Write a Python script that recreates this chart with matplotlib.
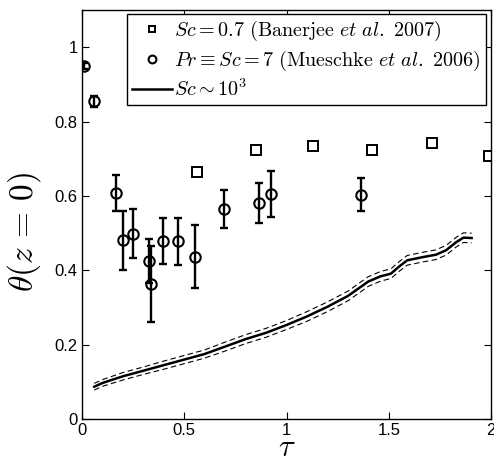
import numpy as np
import matplotlib.pyplot as plt

plt.rcParams['mathtext.fontset'] = 'cm'
plt.rcParams['font.family'] = ['Liberation Sans', 'DejaVu Sans']

# Sc = 0.7 (Banerjee et al. 2007)
sq_tau = [0.56, 0.85, 1.13, 1.42, 1.71, 1.99]
sq_theta = [0.664, 0.723, 0.734, 0.723, 0.742, 0.707]

# Pr = Sc = 7 (Mueschke et al. 2006)
ci_tau = [0.01, 0.06, 0.165, 0.199, 0.251, 0.329, 0.337, 0.398, 0.469, 0.551,
          0.693, 0.866, 0.922, 1.364]
ci_theta = [0.95, 0.855, 0.608, 0.481, 0.499, 0.425, 0.363, 0.479, 0.478, 0.437,
            0.565, 0.582, 0.605, 0.604]
ci_err = [0.008, 0.015, 0.048, 0.079, 0.067, 0.06, 0.102, 0.062, 0.063, 0.085,
          0.051, 0.054, 0.062, 0.045]

# Sc ~ 10^3 (mean and spread)
ln_tau = [0.06, 0.1, 0.2, 0.3, 0.4, 0.5, 0.6, 0.7, 0.8, 0.9, 1.0, 1.1, 1.2, 1.3,
          1.4, 1.46, 1.51, 1.55, 1.59, 1.67, 1.73, 1.78, 1.83, 1.865, 1.905]
ln_theta = [0.087, 0.097, 0.115, 0.13, 0.145, 0.16, 0.175, 0.195, 0.215, 0.232,
            0.253, 0.276, 0.302, 0.331, 0.37, 0.384, 0.391, 0.41, 0.427, 0.436,
            0.442, 0.454, 0.476, 0.488, 0.487]
ln_spread = [0.009, 0.009, 0.01, 0.01, 0.011, 0.011, 0.011, 0.012, 0.012, 0.012,
             0.012, 0.013, 0.013, 0.013, 0.013, 0.013, 0.013, 0.013, 0.013, 0.013,
             0.013, 0.013, 0.013, 0.013, 0.013]

fig = plt.figure(figsize=(4.94, 4.62), dpi=100)
ax = fig.add_axes([0.166, 0.093, 0.828, 0.885])

lo = np.array(ln_theta) - np.array(ln_spread)
hi = np.array(ln_theta) + np.array(ln_spread)
ax.plot(ln_tau, hi, 'k--', lw=0.8, dashes=(5, 3))
ax.plot(ln_tau, lo, 'k--', lw=0.8, dashes=(5, 3))
line, = ax.plot(ln_tau, ln_theta, 'k-', lw=1.8)

sq, = ax.plot(sq_tau, sq_theta, 's', ms=6.5, mfc='none', mec='k', mew=1.4, ls='none')
ax.errorbar(ci_tau, ci_theta, yerr=ci_err, fmt='none', ecolor='k',
            elinewidth=1.7, capsize=3, capthick=1.7)
ci, = ax.plot(ci_tau, ci_theta, 'o', ms=7.5, mfc='none', mec='k', mew=1.5, ls='none')

ax.set_xlim(0, 2)
ax.set_ylim(0, 1.1)
ax.set_xticks([0, 0.5, 1, 1.5, 2])
ax.set_xticklabels(['0', '0.5', '1', '1.5', '2'])
ax.set_yticks([0, 0.2, 0.4, 0.6, 0.8, 1])
ax.set_yticklabels(['0', '0.2', '0.4', '0.6', '0.8', '1'])
ax.tick_params(direction='in', top=True, right=True, labelsize=12, length=5, pad=3)
for s in ax.spines.values():
    s.set_linewidth(1.0)

ax.set_xlabel(r'$\tau$', fontsize=22, labelpad=-4)
ax.set_ylabel(r'$\theta(z\,=\,0)$', fontsize=24)
ax.yaxis.set_label_coords(-0.095, 0.457)

labels = [r'$Sc = 0.7\ \mathrm{(Banerjee}\ \mathit{et\ al.}\ \mathrm{2007)}$',
          r'$Pr \equiv Sc = 7\ \mathrm{(Mueschke}\ \mathit{et\ al.}\ \mathrm{2006)}$',
          r'$Sc \sim 10^3$']
leg = ax.legend([sq, ci, line], labels, loc='upper right',
                bbox_to_anchor=(0.988, 0.99), fontsize=14.5, fancybox=False,
                framealpha=1, edgecolor='k', handlelength=2.0, markerscale=0.75,
                handletextpad=0.1, borderpad=0.25, labelspacing=0.28,
                borderaxespad=0.0)
leg.get_frame().set_linewidth(1.0)

fig.savefig('out.png', dpi=100)
